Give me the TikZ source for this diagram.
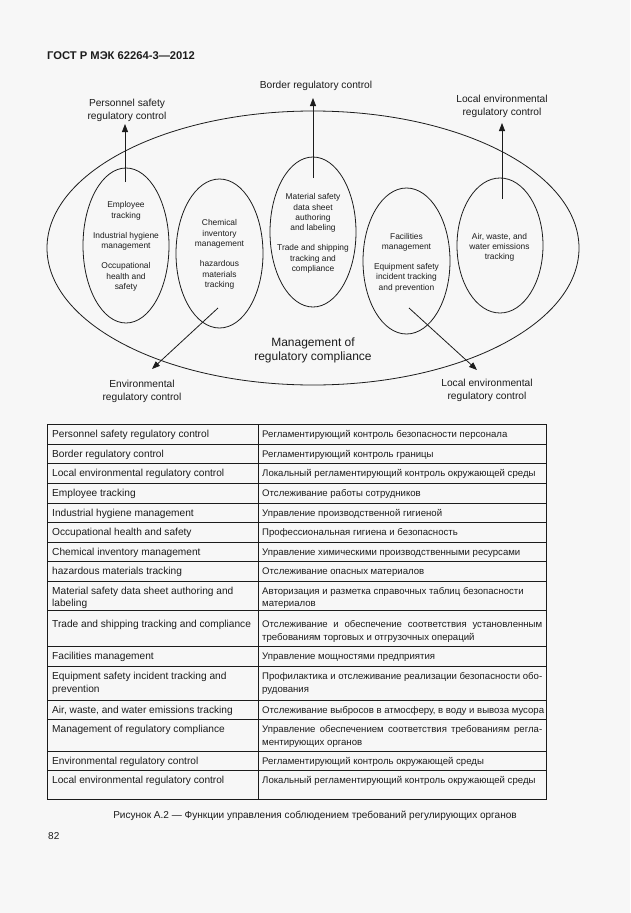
\documentclass[tikz,border=0pt]{standalone}
\usepackage{fontspec}
\setmainfont{Liberation Sans}
\usetikzlibrary{arrows.meta,shapes.geometric}
\definecolor{bgc}{RGB}{247,247,247}
\definecolor{ink}{RGB}{28,28,28}
\begin{document}
\begin{tikzpicture}[x=1pt,y=-1pt,
  ln/.style={draw=ink,line width=0.8pt},
  oval/.style={ln,ellipse,inner sep=0pt},
  intext/.style={text=ink,align=center,font=\fontsize{8.4}{10.3}\selectfont,inner sep=0pt},
  lab/.style={text=ink,align=center,font=\fontsize{10.2}{13}\selectfont,inner sep=0pt},
  biglab/.style={text=ink,align=center,font=\fontsize{12}{14}\selectfont,inner sep=0pt},
  arr/.style={ln,-{Triangle[length=8pt,width=6pt]}},
  tl/.style={text=ink,anchor=base west,inner sep=0pt,font=\fontsize{10.15}{12}\selectfont},
  tr/.style={text=ink,anchor=base west,inner sep=0pt,font=\fontsize{9.6}{12}\selectfont},
]
\path[use as bounding box,fill=bgc] (0,0) rectangle (630,913);

% header
\node[anchor=base west,inner sep=0pt,text=ink,font=\fontsize{11.2}{13}\selectfont\bfseries] (hdr) at (47,59) {ГОСТ Р МЭК 62264-3—2012};

% big ellipse
\node[oval,minimum width=532pt,minimum height=274pt] (big) at (313,248) {};

% small ellipses
\node[oval,minimum width=86pt,minimum height=155pt] (e1) at (126,245.5) {};
\node[oval,minimum width=87pt,minimum height=149pt] (e2) at (219.5,253.5) {};
\node[oval,minimum width=86pt,minimum height=150pt] (e3) at (313,232) {};
\node[oval,minimum width=87pt,minimum height=146pt] (e4) at (406.5,261) {};
\node[oval,minimum width=86pt,minimum height=135pt] (e5) at (500,245.5) {};

\node[intext] (t1) at (126,246.5) {Employee\\tracking\\[10pt]Industrial hygiene\\management\\[10pt]Occupational\\health and\\safety};
\node[intext] (t2) at (219.5,254.5) {Chemical\\inventory\\management\\[10pt]hazardous\\materials\\tracking};
\node[intext] (t3) at (313,233.5) {Material safety\\data sheet\\authoring\\and labeling\\[10pt]Trade and shipping\\tracking and\\compliance};
\node[intext] (t4) at (406.5,262.5) {Facilities\\management\\[10pt]Equipment safety\\incident tracking\\and prevention};
\node[intext] (t5) at (499.5,247.5) {Air, waste, and\\water emissions\\tracking};

\node[biglab] (mgmt) at (313,350) {Management of\\regulatory compliance};

% labels
\node[lab] (l1) at (127,110) {Personnel safety\\regulatory control};
\node[lab] (l2) at (316,86) {Border regulatory control};
\node[lab] (l3) at (502,106.5) {Local environmental\\regulatory control};
\node[lab] (l4) at (142,391.5) {Environmental\\regulatory control};
\node[lab] (l5) at (487,390.5) {Local environmental\\regulatory control};

% connector ends
\coordinate (s1) at (125,182);
\coordinate (p1) at (125,124);
\coordinate (s2) at (313,178);
\coordinate (p2) at (313,98);
\coordinate (s3) at (502,199);
\coordinate (p3) at (502,123);
\coordinate (s4) at (218,308);
\coordinate (p4) at (152,369);
\coordinate (s5) at (409,308);
\coordinate (p5) at (477,370);

\draw[arr] (s1) -- (p1);
\draw[arr] (s2) -- (p2);
\draw[arr] (s3) -- (p3);
\draw[arr] (s4) -- (p4);
\draw[arr] (s5) -- (p5);

% table
\draw[ln,line width=0.9pt] (47,424) rectangle (546,799);
\draw[ln,line width=0.9pt] (258,424) -- (258,799);
\foreach \yy in {444,463,483,503,522,542,561,581,610,646,666,700,719,751,770}
  \draw[ln,line width=0.8pt] (47,\yy) -- (546,\yy);

\node[tl] (a1) at (52,437.5) {Personnel safety regulatory control};
\node[tl] (a2) at (52,457) {Border regulatory control};
\node[tl] (a3) at (52,476.5) {Local environmental regulatory control};
\node[tl] (a4) at (52,496.5) {Employee tracking};
\node[tl] (a5) at (52,516) {Industrial hygiene management};
\node[tl] (a6) at (52,535.5) {Occupational health and safety};
\node[tl] (a7) at (52,555) {Chemical inventory management};
\node[tl] (a8) at (52,574.5) {hazardous materials tracking};
\node[tl] (a9) at (52,594.5) {Material safety data sheet authoring and};
\node[tl] (a9b) at (52,606.5) {labeling};
\node[tl] (a10) at (52,627.5) {Trade and shipping tracking and compliance};
\node[tl] (a11) at (52,659.5) {Facilities management};
\node[tl] (a12) at (52,679.5) {Equipment safety incident tracking and};
\node[tl] (a12b) at (52,692.5) {prevention};
\node[tl] (a13) at (52,713) {Air, waste, and water emissions tracking};
\node[tl] (a14) at (52,732.5) {Management of regulatory compliance};
\node[tl] (a15) at (52,764) {Environmental regulatory control};
\node[tl] (a16) at (52,783.5) {Local environmental regulatory control};

\node[tr] (b1) at (262,437.5) {Регламентирующий контроль безопасности персонала};
\node[tr] (b2) at (262,457) {Регламентирующий контроль границы};
\node[tr] (b3) at (262,476.5) {Локальный регламентирующий контроль окружающей среды};
\node[tr] (b4) at (262,496.5) {Отслеживание работы сотрудников};
\node[tr] (b5) at (262,516) {Управление производственной гигиеной};
\node[tr] (b6) at (262,535.5) {Профессиональная гигиена и безопасность};
\node[tr] (b7) at (262,555) {Управление химическими производственными ресурсами};
\node[tr] (b8) at (262,574.5) {Отслеживание опасных материалов};
\node[tr] (b9) at (262,594.5) {Авторизация и разметка справочных таблиц безопасности};
\node[tr] (b9b) at (262,606.5) {материалов};
\node[tr] (b10) at (262,627.5) {\makebox[280pt][s]{Отслеживание и обеспечение соответствия установленным}};
\node[tr] (b10b) at (262,640.5) {требованиям торговых и отгрузочных операций};
\node[tr] (b11) at (262,659.5) {Управление мощностями предприятия};
\node[tr] (b12) at (262,679.5) {\makebox[280pt][s]{Профилактика и отслеживание реализации безопасности обо-}};
\node[tr] (b12b) at (262,692.5) {рудования};
\node[tr] (b13) at (262,713) {Отслеживание выбросов в атмосферу, в воду и вывоза мусора};
\node[tr] (b14) at (262,732.5) {\makebox[280pt][s]{Управление обеспечением соответствия требованиям регла-}};
\node[tr] (b14b) at (262,745.5) {ментирующих органов};
\node[tr] (b15) at (262,764) {Регламентирующий контроль окружающей среды};
\node[tr] (b16) at (262,783.5) {Локальный регламентирующий контроль окружающей среды};

% caption and page number
\node[anchor=base,inner sep=0pt,text=ink,font=\fontsize{10.05}{12}\selectfont] (cap) at (315,818.5) {Рисунок А.2 — Функции управления соблюдением требований регулирующих органов};
\node[anchor=base west,inner sep=0pt,text=ink,font=\fontsize{10}{12}\selectfont] (pg) at (48,839) {82};
\end{tikzpicture}
\end{document}
